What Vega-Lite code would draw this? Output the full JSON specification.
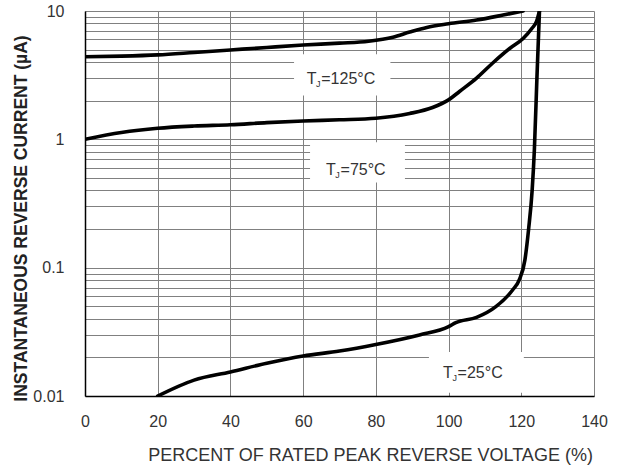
{
  "$schema": "https://vega.github.io/schema/vega-lite/v6.json",
  "width": 509,
  "height": 385,
  "autosize": "none",
  "padding": {"left": 85, "top": 11, "right": 24, "bottom": 78},
  "background": "white",
  "config": {
    "view": {"stroke": null},
    "font": "Liberation Sans",
    "axis": {"labelFont": "Liberation Sans", "titleFont": "Liberation Sans"}
  },
  "datasets": {
    "curves": [
      {"series": "125", "x": 0, "y": 4.4},
      {"series": "125", "x": 10, "y": 4.45},
      {"series": "125", "x": 20, "y": 4.55},
      {"series": "125", "x": 30, "y": 4.75},
      {"series": "125", "x": 40, "y": 4.97},
      {"series": "125", "x": 50, "y": 5.2},
      {"series": "125", "x": 60, "y": 5.43},
      {"series": "125", "x": 70, "y": 5.62},
      {"series": "125", "x": 78, "y": 5.82},
      {"series": "125", "x": 84.7, "y": 6.25},
      {"series": "125", "x": 89.3, "y": 6.85},
      {"series": "125", "x": 94, "y": 7.45},
      {"series": "125", "x": 100, "y": 7.95},
      {"series": "125", "x": 107.7, "y": 8.5},
      {"series": "125", "x": 115, "y": 9.3},
      {"series": "125", "x": 120.5, "y": 10},
      {"series": "75", "x": 0, "y": 1.0},
      {"series": "75", "x": 10, "y": 1.13},
      {"series": "75", "x": 20, "y": 1.22},
      {"series": "75", "x": 30, "y": 1.27},
      {"series": "75", "x": 40, "y": 1.3},
      {"series": "75", "x": 50, "y": 1.35},
      {"series": "75", "x": 60, "y": 1.39},
      {"series": "75", "x": 70, "y": 1.42},
      {"series": "75", "x": 80, "y": 1.46},
      {"series": "75", "x": 89.3, "y": 1.59},
      {"series": "75", "x": 95.6, "y": 1.77},
      {"series": "75", "x": 100, "y": 2.03},
      {"series": "75", "x": 103, "y": 2.36},
      {"series": "75", "x": 107.7, "y": 3.0},
      {"series": "75", "x": 112, "y": 3.9},
      {"series": "75", "x": 116.8, "y": 5.1},
      {"series": "75", "x": 120.5, "y": 6.1},
      {"series": "75", "x": 122.9, "y": 7.3},
      {"series": "75", "x": 124.2, "y": 8.3},
      {"series": "75", "x": 125, "y": 10},
      {"series": "25", "x": 20, "y": 0.01},
      {"series": "25", "x": 30, "y": 0.0133},
      {"series": "25", "x": 40, "y": 0.0154},
      {"series": "25", "x": 50, "y": 0.018},
      {"series": "25", "x": 60, "y": 0.0205},
      {"series": "25", "x": 70, "y": 0.0224},
      {"series": "25", "x": 80, "y": 0.0252},
      {"series": "25", "x": 92, "y": 0.0299},
      {"series": "25", "x": 100, "y": 0.0347},
      {"series": "25", "x": 102, "y": 0.0373},
      {"series": "25", "x": 107.7, "y": 0.041},
      {"series": "25", "x": 113, "y": 0.0497},
      {"series": "25", "x": 117.6, "y": 0.067},
      {"series": "25", "x": 119.5, "y": 0.081},
      {"series": "25", "x": 121, "y": 0.115},
      {"series": "25", "x": 122, "y": 0.198},
      {"series": "25", "x": 123, "y": 0.405},
      {"series": "25", "x": 123.6, "y": 0.83},
      {"series": "25", "x": 124.3, "y": 3.0},
      {"series": "25", "x": 125, "y": 10}
    ],
    "boxes": [
      {"x": 57.5, "x2": 84, "y": 2.2, "y2": 4.6},
      {"x": 61.9, "x2": 88, "y": 0.46, "y2": 0.95},
      {"x": 94.6, "x2": 120.7, "y": 0.0106, "y2": 0.022}
    ],
    "labels": [
      {"x": 61.0, "y": 2.93, "rest": "=125°C"},
      {"x": 66.3, "y": 0.579, "rest": "=75°C"},
      {"x": 98.5, "y": 0.0151, "rest": "=25°C"}
    ]
  },
  "encoding": {
    "x": {
      "field": "x",
      "type": "quantitative",
      "scale": {"domain": [0, 140], "nice": false, "zero": false},
      "axis": {
        "values": [0, 20, 40, 60, 80, 100, 120, 140],
        "title": "PERCENT OF RATED PEAK REVERSE VOLTAGE (%)",
        "titleFontSize": 18,
        "titleFontWeight": "normal",
        "titleColor": "#333",
        "titleX": 285,
        "titleY": 59,
        "titleAlign": "center",
        "titleBaseline": "middle",
        "labelFontSize": 16,
        "labelColor": "#333",
        "labelPadding": 17,
        "labelFlush": false,
        "ticks": false,
        "grid": true,
        "gridColor": "#808080",
        "gridWidth": 1,
        "domainColor": "#000",
        "domainWidth": 1.5
      }
    },
    "y": {
      "field": "y",
      "type": "quantitative",
      "scale": {"type": "log", "domain": [0.01, 10], "nice": false},
      "axis": {
        "values": [0.01, 0.02, 0.03, 0.04, 0.05, 0.06, 0.07, 0.08, 0.09, 0.1, 0.2, 0.3, 0.4, 0.5, 0.6, 0.7, 0.8, 0.9, 1, 2, 3, 4, 5, 6, 7, 8, 9, 10],
        "labelExpr": "datum.value == 10 ? '10' : datum.value == 1 ? '1' : datum.value == 0.1 ? '0.1' : datum.value == 0.01 ? '0.01' : ''",
        "title": "INSTANTANEOUS REVERSE CURRENT (µA)",
        "titleFontSize": 17.5,
        "titleFontWeight": "bold",
        "titleColor": "#222",
        "titleAngle": 270,
        "titleX": -64,
        "titleY": 207,
        "titleAlign": "center",
        "titleBaseline": "middle",
        "labelFontSize": 16,
        "labelColor": "#333",
        "labelPadding": 21,
        "labelFlush": false,
        "labelOverlap": false,
        "ticks": false,
        "grid": true,
        "gridColor": "#808080",
        "gridWidth": 1,
        "domainColor": "#000",
        "domainWidth": 1.5
      }
    }
  },
  "layer": [
    {
      "data": {"name": "boxes"},
      "mark": {"type": "rect", "fill": "white", "stroke": null},
      "encoding": {
        "x2": {"field": "x2"},
        "y2": {"field": "y2"}
      }
    },
    {
      "data": {"name": "curves"},
      "mark": {"type": "line", "color": "black", "strokeWidth": 3.6, "interpolate": "monotone", "strokeCap": "round", "clip": true},
      "encoding": {
        "detail": {"field": "series", "type": "nominal"}
      }
    },
    {
      "data": {"name": "labels"},
      "mark": {"type": "text", "text": "T", "align": "left", "baseline": "middle", "fontSize": 16, "color": "#333", "font": "Liberation Sans"},
      "encoding": {}
    },
    {
      "data": {"name": "labels"},
      "mark": {"type": "text", "text": "J", "align": "left", "baseline": "middle", "fontSize": 9, "dx": 9.3, "dy": 5, "color": "#333", "font": "Liberation Sans"},
      "encoding": {}
    },
    {
      "data": {"name": "labels"},
      "mark": {"type": "text", "align": "left", "baseline": "middle", "fontSize": 16, "dx": 14.5, "color": "#333", "font": "Liberation Sans"},
      "encoding": {
        "text": {"field": "rest", "type": "nominal"}
      }
    }
  ]
}
